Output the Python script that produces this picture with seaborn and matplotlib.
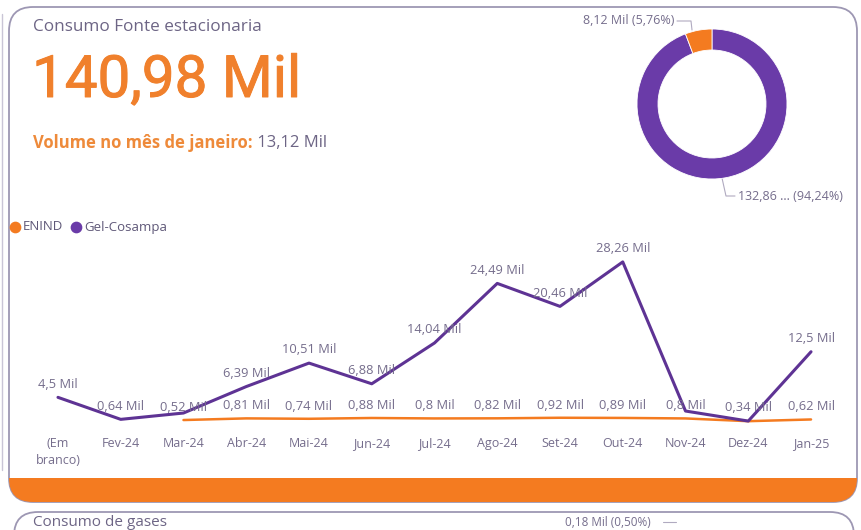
import numpy as np
import pandas as pd
import matplotlib.pyplot as plt
import matplotlib.patheffects as pe
import seaborn as sns
from matplotlib.patches import FancyBboxPatch, Rectangle

meses = ['(Em\nbranco)', 'Fev-24', 'Mar-24', 'Abr-24', 'Mai-24', 'Jun-24', 'Jul-24',
         'Ago-24', 'Set-24', 'Out-24', 'Nov-24', 'Dez-24', 'Jan-25']
gel_cosampa = [4.5, 0.64, 1.75, 6.39, 10.51, 6.88, 14.04, 24.49, 20.46, 28.26, 2.1, 0.34, 12.5]
enind = [np.nan, np.nan, 0.52, 0.81, 0.74, 0.88, 0.8, 0.82, 0.92, 0.89, 0.8, 0.32, 0.62]
# rotulos escondidos pelo Power BI (sobreposicao)
gel_sem_rotulo = [2, 10]
enind_sem_rotulo = [11]

roxo = '#5e3394'
roxo_donut = '#6a3ba8'
laranja = '#f47b20'
cinza_txt = '#756d8c'
borda = '#9d97b3'


def fmt(v):
    s = f"{v:.2f}".rstrip('0').rstrip('.')
    return s.replace('.', ',') + ' Mil'


def pct(v):
    return f"{v:.2f}".replace('.', ',') + '%'


total_enind = np.nansum(enind)
total_gel = np.nansum(gel_cosampa)
total = total_enind + total_gel
volume_jan = gel_cosampa[-1] + enind[-1]

df = pd.DataFrame({
    'pos': list(range(len(meses))) * 2,
    'valor': gel_cosampa + enind,
    'serie': ['Gel-Cosampa'] * len(meses) + ['ENIND'] * len(meses),
})

sns.set_theme(style='white')
plt.rcParams['font.family'] = ['Open Sans', 'DejaVu Sans']

fig = plt.figure(figsize=(8.61, 5.30), dpi=100)
fig.patch.set_facecolor('white')

# fundo em pixels
bg = fig.add_axes([0, 0, 1, 1])
bg.set_xlim(0, 861)
bg.set_ylim(530, 0)
bg.axis('off')

card = FancyBboxPatch((9, 7), 848, 495, boxstyle='round,pad=0,rounding_size=24',
                      facecolor='white', edgecolor=borda, linewidth=1.3, zorder=1)
bg.add_patch(card)
faixa = Rectangle((0, 478), 861, 30, facecolor=laranja, edgecolor='none', zorder=2)
bg.add_patch(faixa)
faixa.set_clip_path(card)

card2 = FancyBboxPatch((14, 512), 840, 120, boxstyle='round,pad=0,rounding_size=24',
                       facecolor='white', edgecolor=borda, linewidth=1.3, zorder=1)
bg.add_patch(card2)
bg.plot([2, 2], [14, 470], color='#c9c5d6', lw=1, zorder=1)

bg.text(33, 27, 'Consumo Fonte estacionaria', fontsize=12.3, color='#6d6585', va='center', zorder=5)
bg.text(32, 97, fmt(total), fontsize=42, color='#f0802c', family='Roboto',
        va='baseline', zorder=5,
        path_effects=[pe.Stroke(linewidth=0.7, foreground='#f0802c'), pe.Normal()])
t1 = bg.text(33, 143, 'Volume no mês de janeiro:', fontsize=12, color='#ee8a3a',
             fontweight='bold', va='center', zorder=5)
bg.annotate(' ' + fmt(volume_jan), xy=(1, 0.5), xycoords=t1, fontsize=12, color='#6d6585',
            va='center', ha='left', zorder=5)
bg.text(33, 530, 'Consumo de gases', fontsize=11, color='#6d6585', va='bottom', zorder=5)
bg.text(565, 529, '0,18 Mil (0,50%)', fontsize=8.5, color=cinza_txt, va='bottom', zorder=5)
bg.plot([663, 676], [522, 522], color='#b0aac0', lw=0.8, zorder=5)

# legenda
bg.scatter([15], [227], s=55, color=laranja, zorder=5)
bg.text(23, 227, 'ENIND', fontsize=9.5, color='#5f5878', va='center', zorder=5)
bg.scatter([76], [227], s=55, color=roxo_donut, zorder=5)
bg.text(84, 227, 'Gel-Cosampa', fontsize=9.5, color='#5f5878', va='center', zorder=5)

# rotulos do donut
bg.text(674, 21, f"{fmt(total_enind)} ({pct(total_enind / total * 100)})",
        fontsize=9, color=cinza_txt, ha='right', va='center', zorder=5)
bg.plot([677, 691, 692], [21, 21, 30], color='#b0aac0', lw=0.8, zorder=5)
bg.text(738, 196, f"{fmt(total_gel)[:6]} ... ({pct(total_gel / total * 100)})",
        fontsize=9, color=cinza_txt, ha='left', va='center', zorder=5)
bg.plot([722, 726, 735], [178, 196, 196], color='#b0aac0', lw=0.8, zorder=5)

# grafico de linhas
ax = fig.add_axes([26.6 / 861, 107 / 530, 815.8 / 861, 171 / 530])
ax.patch.set_alpha(0)
sns.lineplot(data=df[df.serie == 'ENIND'], x='pos', y='valor', color=laranja,
             linewidth=1.8, ax=ax, legend=False)
sns.lineplot(data=df[df.serie == 'Gel-Cosampa'], x='pos', y='valor', color=roxo,
             linewidth=2.2, ax=ax, legend=False)
for ln in ax.lines:
    ln.set_clip_on(False)

for i, v in enumerate(gel_cosampa):
    if i not in gel_sem_rotulo:
        ax.annotate(fmt(v), (i, v), xytext=(0, 9.5), textcoords='offset points',
                    ha='center', va='center', fontsize=9.3, color=cinza_txt)
for i, v in enumerate(enind):
    if not np.isnan(v) and i not in enind_sem_rotulo:
        ax.annotate(fmt(v), (i, v), xytext=(0, 9), textcoords='offset points',
                    ha='center', va='center', fontsize=9.3, color=cinza_txt)

ax.set_xlim(-0.5, 12.5)
ax.set_ylim(0, 30)
ax.set_xticks(range(len(meses)))
ax.set_xticklabels(meses, fontsize=9, color=cinza_txt, linespacing=1.45)
ax.tick_params(axis='x', length=0, pad=10)
ax.set_yticks([])
ax.set_xlabel('')
ax.set_ylabel('')
sns.despine(ax=ax, left=True, bottom=True)

# donut
axd = fig.add_axes([637 / 861, 351 / 530, 150 / 861, 150 / 530])
axd.pie([total_gel, total_enind], colors=[roxo_donut, laranja], startangle=90,
        counterclock=False, radius=1,
        wedgeprops=dict(width=0.28, edgecolor='white', linewidth=0.6))
axd.set_xlim(-1, 1)
axd.set_ylim(-1, 1)

fig.savefig('out.png', dpi=100, facecolor='white')
